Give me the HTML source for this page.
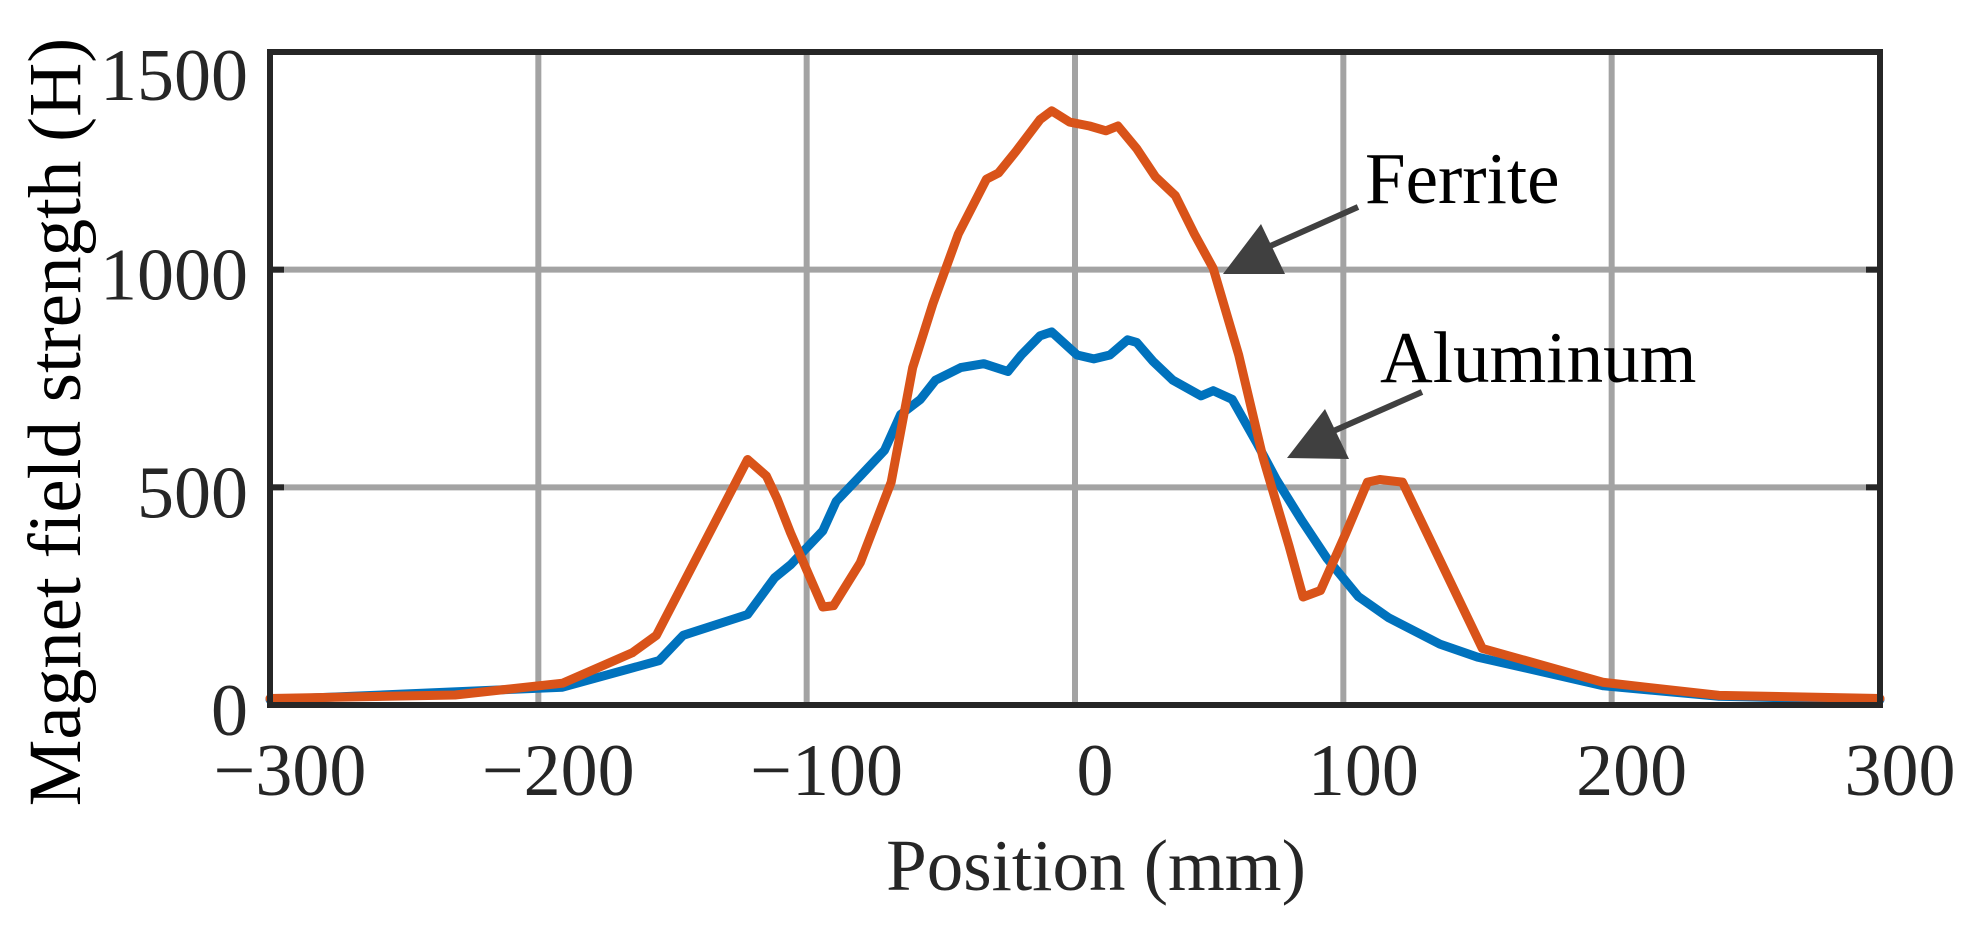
<!DOCTYPE html>
<html><head><meta charset="utf-8"><style>
html,body{margin:0;padding:0;background:#fff;}
svg{display:block;font-family:"Liberation Serif",serif;}
</style></head><body>
<svg id="chart" width="1982" height="929" viewBox="0 0 1982 929" xmlns="http://www.w3.org/2000/svg">
<g id="grid"></g>
<g id="series"></g>
<rect x="270" y="52" width="1610" height="653" fill="none" stroke="#262626" stroke-width="6"/>
<g id="ticks"></g>
<text x="1096" y="890" font-size="73" text-anchor="middle" fill="#262626">Position (mm)</text>
<text x="0" y="0" font-size="75" text-anchor="middle" fill="#000" transform="translate(80,422) rotate(-90)">Magnet field strength (H)</text>
<g>
<line x1="1358" y1="207" x2="1250" y2="255" stroke="#404040" stroke-width="6"/>
<polygon points="1223,274 1261,224 1285,274" fill="#404040"/>
<text x="1365" y="203" font-size="73" fill="#000">Ferrite</text>
</g>
<g>
<line x1="1422" y1="392" x2="1313" y2="440" stroke="#404040" stroke-width="6"/>
<polygon points="1287,458 1325,409 1349,459" fill="#404040"/>
<text x="1380" y="382" font-size="73" fill="#000">Aluminum</text>
</g>
</svg>
<script>
const xTicks = [-300,-200,-100,0,100,200,300];
const yTicks = [0,500,1000,1500];
const xTickLabels = ["\u2212300","\u2212200","\u2212100","0","100","200","300"];
const yTickLabels = ["0","500","1000","1500"];
const ferriteX = [-300,-231,-191,-165,-156,-122,-115,-111,-106,-94,-90,-80,-68.5,-60.5,-53,-43.5,-33,-28.5,-22,-13,-8.7,-2,5.4,11.5,16,23,30,37.4,44.5,51.5,61,70,79.8,85,91.5,101,109,113.6,122,151.8,197,240,300];
const ferriteY = [15,23,50,120,160,564,526,474,395,225,228,327,512,775,921,1082,1208,1222,1272,1345,1365,1339,1330,1319,1330,1278,1213,1170,1082,1003,804,570,365,248,263,395,512,518,512,130,52,22,15];
const aluminumX = [-300,-191,-155,-146,-122,-112,-106,-94,-89,-80,-71,-65,-57.6,-52,-42.6,-34,-25,-20,-13,-8.7,0.8,7,13,19.6,23,29,36.5,47,51.5,58.6,68,75,84.5,94,105.6,117,136,150,197,240,300];
const aluminumY = [12,41,102,160,208,292,322,400,468,526,585,667,702,746,775,784,766,804,848,857,804,795,804,839,833,790,746,710,722,702,599,518,424,336,249,200,140,110,44,20,12];

const NS="http://www.w3.org/2000/svg";
const L=270,R=1880,T=52,B=705;
function xs(v){return L+(v+300)/600*(R-L);}
function ys(v){return B-v/1500*(B-T);}
function mk(tag,attrs,parent){const e=document.createElementNS(NS,tag);for(const k in attrs)e.setAttribute(k,attrs[k]);parent.appendChild(e);return e;}
const grid=document.getElementById('grid'),ticks=document.getElementById('ticks'),series=document.getElementById('series');
xTicks.forEach((v,i)=>{
  const g=mk('line',{x1:xs(v),x2:xs(v),y1:T,y2:B,stroke:'#a3a3a3','stroke-width':6},grid);
  
  
  const t=mk('text',{x:xs(v)+20,y:795,'font-size':74,'text-anchor':'middle',fill:'#262626'},ticks);
  t.textContent=xTickLabels[i];
  
  
});
yTicks.forEach((v,i)=>{
  const g=mk('line',{x1:L,x2:R,y1:ys(v),y2:ys(v),stroke:'#a3a3a3','stroke-width':6},grid);
  
  
  mk('line',{x1:L,x2:L+14,y1:ys(v),y2:ys(v),stroke:'#262626','stroke-width':6},ticks);
  mk('line',{x1:R-14,x2:R,y1:ys(v),y2:ys(v),stroke:'#262626','stroke-width':6},ticks);
  const yy = v===1500 ? 100 : ys(v)+30;
  const t=mk('text',{x:248,y:yy,'font-size':74,'text-anchor':'end',fill:'#262626'},ticks);
  t.textContent=yTickLabels[i];
  
  
});
function line(X,Y,color,name){
  const d=X.map((x,i)=>(i?'L':'M')+xs(x).toFixed(1)+','+ys(Y[i]).toFixed(1)).join(' ');
  const p=mk('path',{d:d,fill:'none',stroke:color,'stroke-width':9,'stroke-linejoin':'round','stroke-linecap':'round'},series);
  
  
}
line(aluminumX,aluminumY,'#0072BD','aluminum-line');
line(ferriteX,ferriteY,'#D95319','ferrite-line');
</script>
</body></html>
